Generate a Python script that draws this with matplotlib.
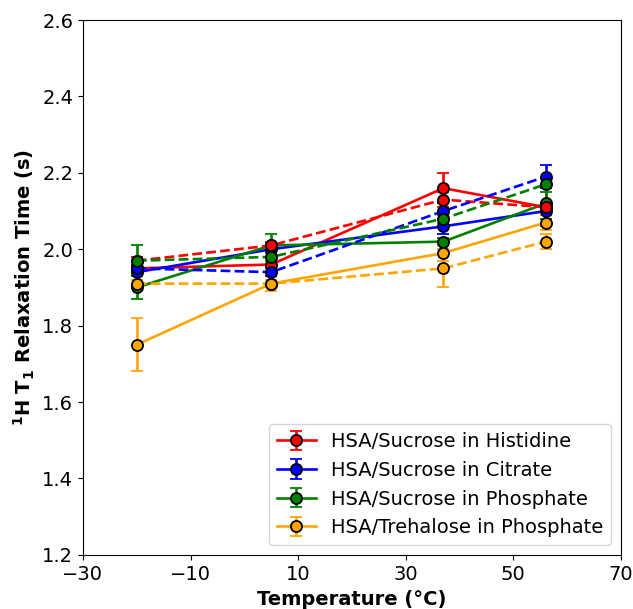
import numpy as np
import matplotlib.pyplot as plt

temps = [-20, 5, 37, 56]

labels = ["HSA/Sucrose in Histidine", "HSA/Sucrose in Citrate",
          "HSA/Sucrose in Phosphate", "HSA/Trehalose in Phosphate"]
colors = ["red", "blue", "green", "orange"]

# solid lines (with legend)
histidine = [1.95, 1.96, 2.16, 2.11]
citrate = [1.94, 2.00, 2.06, 2.10]
phosphate = [1.90, 2.01, 2.02, 2.12]
trehalose = [1.75, 1.91, 1.99, 2.07]

histidine_err = [0.01, 0.02, 0.04, 0.05]
citrate_err = [0.01, 0.01, 0.02, 0.01]
phosphate_err = [0.03, 0.03, 0.01, 0.04]
trehalose_err = [0.07, 0.02, 0.02, 0.02]

# dashed lines (no legend)
histidine_d = [1.97, 2.01, 2.13, 2.11]
citrate_d = [1.95, 1.94, 2.10, 2.19]
phosphate_d = [1.97, 1.98, 2.08, 2.17]
trehalose_d = [1.91, 1.91, 1.95, 2.02]

histidine_d_err = [0.01, 0.01, 0.02, 0.01]
citrate_d_err = [0.01, 0.01, 0.02, 0.03]
phosphate_d_err = [0.04, 0.01, 0.01, 0.02]
trehalose_d_err = [0.01, 0.01, 0.05, 0.02]

solid = [histidine, citrate, phosphate, trehalose]
solid_err = [histidine_err, citrate_err, phosphate_err, trehalose_err]
dashed = [histidine_d, citrate_d, phosphate_d, trehalose_d]
dashed_err = [histidine_d_err, citrate_d_err, phosphate_d_err, trehalose_d_err]

fig, ax = plt.subplots(figsize=(6.33, 6.09), dpi=100)
fig.subplots_adjust(left=0.131, right=0.981, top=0.967, bottom=0.089)

style = dict(marker="o", markersize=8, markeredgecolor="black",
             markeredgewidth=1.3, lw=1.9, capsize=4.5, elinewidth=1.9)

for y, e, c, lab in zip(solid, solid_err, colors, labels):
    ax.errorbar(temps, y, yerr=e, color=c, label=lab, **style)
for y, e, c in zip(dashed, dashed_err, colors):
    ax.errorbar(temps, y, yerr=e, color=c, linestyle="--", **style)

ax.set_xlim(-30, 70)
ax.set_ylim(1.2, 2.6)
ax.set_xticks(np.arange(-30, 71, 20))
ax.set_yticks(np.arange(1.2, 2.61, 0.2))
ax.tick_params(labelsize=14)
ax.set_xlabel("Temperature (°C)", fontsize=14, fontweight="bold", labelpad=5)
ax.set_ylabel(r"$\mathbf{^1H\ T_1}$ Relaxation Time (s)", fontsize=14,
              fontweight="bold", labelpad=4)
ax.legend(loc="lower right", fontsize=14)

plt.savefig("out.png")
